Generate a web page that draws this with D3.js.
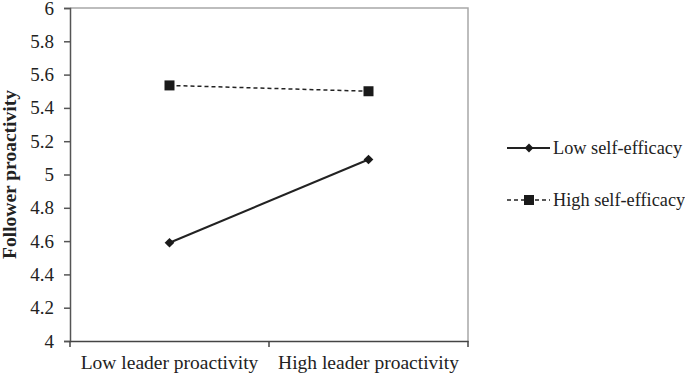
<!DOCTYPE html>
<html><head><meta charset="utf-8">
<script src="https://cdn.jsdelivr.net/npm/d3@7"></script>
<style>html,body{margin:0;padding:0;background:#fff}svg{display:block}text{font-family:"Liberation Serif","Times New Roman",serif;fill:#222}</style>
</head><body>
<script>
const categories = ["Low leader proactivity", "High leader proactivity"];
const seriesNames = ["Low self-efficacy", "High self-efficacy"];
const lowSelfEfficacy = [4.59, 5.09];
const highSelfEfficacy = [5.535, 5.50];
const yTicks = [4, 4.2, 4.4, 4.6, 4.8, 5, 5.2, 5.4, 5.6, 5.8, 6];
const yTitle = "Follower proactivity";

const W = 685, H = 375;
const m = {left: 70, right: 468, top: 8, bottom: 341};
const svg = d3.select("body").append("svg").attr("width", W).attr("height", H);

const x = d3.scaleBand().domain(categories).range([m.left, m.right]);
const y = d3.scaleLinear().domain([4, 6]).range([m.bottom, m.top]);

// plot frame (top and right, gray)
svg.append("path").attr("d", `M${m.left},${m.top}H${m.right}V${m.bottom}`)
  .attr("fill", "none").attr("stroke", "#a8a8a8").attr("stroke-width", 1.5);

// y axis
const ya = svg.append("g").attr("transform", `translate(${m.left},0)`)
  .call(d3.axisLeft(y).tickValues(yTicks).tickSize(6).tickPadding(10).tickFormat(d => String(d)));
ya.select(".domain").attr("stroke", "#555").attr("stroke-width", 1.5);
ya.selectAll(".tick line").attr("stroke", "#555").attr("stroke-width", 1.5);
ya.selectAll("text").attr("font-size", 19).attr("fill", "#222").style("font-family", "Liberation Serif, serif");

// x axis
const xa = svg.append("g").attr("transform", `translate(0,${m.bottom})`)
  .call(d3.axisBottom(x).tickSize(0).tickPadding(14));
xa.select(".domain").attr("stroke", "#444").attr("stroke-width", 1.5);
xa.selectAll(".tick line").remove();
xa.selectAll("text").attr("font-size", 19.5).attr("fill", "#222").style("font-family", "Liberation Serif, serif");
// boundary ticks between categories
const bounds = [x.range()[0], ...categories.slice(1).map(c => x(c)), x.range()[1]];
svg.append("g").selectAll("line").data(bounds).join("line")
  .attr("x1", d => d).attr("x2", d => d).attr("y1", m.bottom).attr("y2", m.bottom + 6)
  .attr("stroke", "#444").attr("stroke-width", 1.5);

// axis title
svg.append("text").attr("transform", `translate(9,${(m.top + m.bottom) / 2}) rotate(-90)`)
  .attr("text-anchor", "middle").attr("dy", "0.35em").attr("font-size", 19.5).attr("font-weight", "bold").text(yTitle);

const cx = c => x(c) + x.bandwidth() / 2;
const line = d3.line().x((d, i) => cx(categories[i])).y(d => y(d));

// low self-efficacy
svg.append("path").datum(lowSelfEfficacy).attr("d", line)
  .attr("fill", "none").attr("stroke", "#222").attr("stroke-width", 2);
svg.append("g").selectAll("path").data(lowSelfEfficacy).join("path")
  .attr("d", d3.symbol(d3.symbolDiamond2, 60))
  .attr("transform", (d, i) => `translate(${cx(categories[i])},${y(d)})`).attr("fill", "#1a1a1a");

// high self-efficacy
svg.append("path").datum(highSelfEfficacy).attr("d", line)
  .attr("fill", "none").attr("stroke", "#222").attr("stroke-width", 1.5).attr("stroke-dasharray", "4,3");
svg.append("g").selectAll("rect").data(highSelfEfficacy).join("rect")
  .attr("x", (d, i) => cx(categories[i]) - 5).attr("y", d => y(d) - 5)
  .attr("width", 10).attr("height", 10).attr("fill", "#1a1a1a");

// legend
const leg = svg.append("g");
const ly = [148, 200];
leg.append("line").attr("x1", 507).attr("x2", 550).attr("y1", ly[0]).attr("y2", ly[0])
  .attr("stroke", "#222").attr("stroke-width", 2);
leg.append("path").attr("d", d3.symbol(d3.symbolDiamond2, 50)).attr("transform", `translate(529,${ly[0]})`).attr("fill", "#1a1a1a");
leg.append("line").attr("x1", 507).attr("x2", 550).attr("y1", ly[1]).attr("y2", ly[1])
  .attr("stroke", "#222").attr("stroke-width", 1.5).attr("stroke-dasharray", "4,3");
leg.append("rect").attr("x", 524).attr("y", ly[1] - 5).attr("width", 10).attr("height", 10).attr("fill", "#1a1a1a");
leg.selectAll("text").data(seriesNames).join("text")
  .attr("x", 553).attr("y", (d, i) => ly[i]).attr("dy", "0.35em").attr("font-size", 18.3).text(d => d);
</script>
</body></html>
